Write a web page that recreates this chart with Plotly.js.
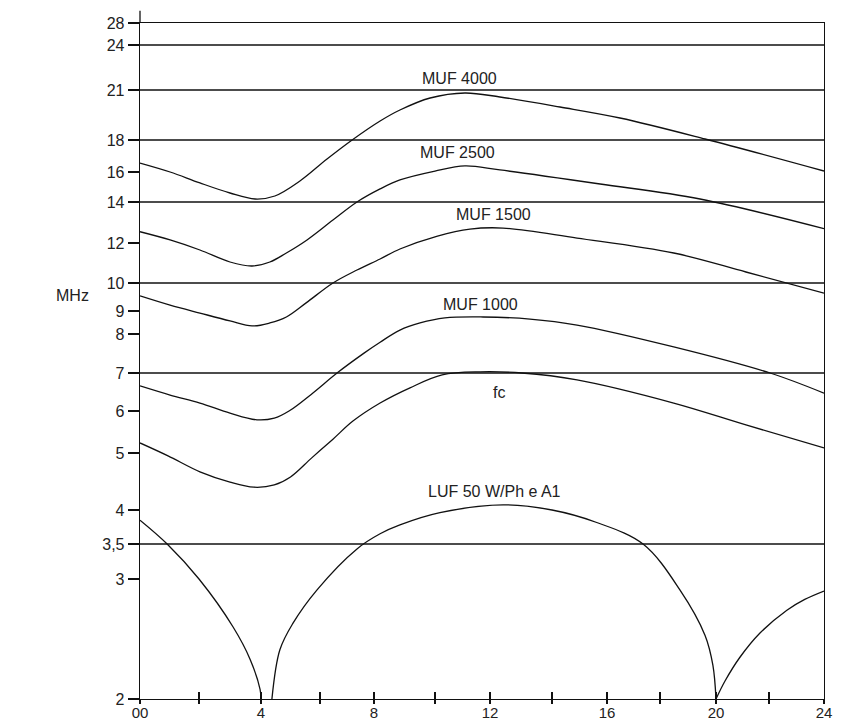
<!DOCTYPE html>
<html>
<head>
<meta charset="utf-8">
<script src="https://cdn.plot.ly/plotly-3.0.1.min.js"></script>
<style>html,body{margin:0;padding:0;background:#fff;}#chart{width:842px;height:723px;}</style>
</head>
<body>
<div id="chart"></div>
<script>
// ---- axis scales as drawn in the reference (hand-drawn, non-uniform) ----
const hourTicks = [0, 2, 4, 6, 8, 10, 12, 14, 16, 18, 20, 22, 24];
const hourTickText = ['00', '', '4', '', '8', '', '12', '', '16', '', '20', '', '24'];
const hourScalePos = [0, 59, 121, 180, 234, 295, 350, 412, 467, 520, 576, 629, 684];

const mhzTicks = [2, 3, 3.5, 4, 5, 6, 7, 8, 9, 10, 12, 14, 16, 18, 21, 24, 28];
const mhzTickText = ['2', '3', '3,5', '4', '5', '6', '7', '8', '9', '10', '12', '14', '16', '18', '21', '24', '28'];
const mhzScalePos = [0, 120, 155, 189, 246, 288, 326, 365, 388, 416, 456, 497, 527, 559, 609, 654, 676];

// reference frequencies drawn as horizontal lines
const refLevels = [24, 21, 18, 14, 10, 7, 3.5];

// ---- series (hours UTC, MHz) ----
const hoursMuf4000 = [0, 1.02, 2.03, 3.0, 3.81, 4.47, 5.32, 6.26, 7.19, 8.2, 8.85, 9.84, 11.09, 12.32, 14.29, 16.49, 19.61, 24];
const muf4000 = [16.56, 16.0, 15.27, 14.6, 14.2, 14.4, 15.4, 16.81, 18.0, 19.14, 19.8, 20.52, 20.82, 20.58, 19.98, 19.32, 18.06, 16.06];

const hoursMuf2500 = [0, 1.02, 2.03, 3.0, 3.71, 4.3, 4.86, 5.56, 6.48, 7.37, 8.2, 8.85, 10.0, 11.09, 12.32, 15.75, 19.43, 24];
const muf2500 = [12.55, 12.15, 11.65, 11.05, 10.85, 11.05, 11.5, 12.15, 13.12, 14.0, 14.87, 15.47, 16.06, 16.38, 16.13, 15.2, 14.2, 12.7];

const hoursMuf1500 = [0, 1.02, 2.03, 3.0, 3.71, 4.3, 4.86, 5.53, 6.48, 7.37, 8.2, 8.85, 10.09, 11.27, 12.42, 14.91, 18.49, 21.13, 24];
const muf1500 = [9.54, 9.21, 8.91, 8.57, 8.35, 8.48, 8.74, 9.29, 10.0, 10.65, 11.2, 11.7, 12.34, 12.68, 12.73, 12.24, 11.5, 10.55, 9.64];

const hoursMuf1000 = [0, 1.02, 2.03, 3.0, 3.87, 4.45, 4.95, 5.75, 6.63, 7.63, 8.2, 8.85, 9.51, 10.36, 11.75, 13.29, 14.91, 18.49, 22.04, 24];
const muf1000 = [6.66, 6.42, 6.21, 5.95, 5.79, 5.83, 6.0, 6.47, 7.0, 7.51, 7.79, 8.17, 8.48, 8.7, 8.74, 8.65, 8.39, 7.67, 7.0, 6.47];

const hoursFc = [0, 0.95, 2.03, 3.0, 3.77, 4.45, 5.0, 5.71, 6.48, 7.22, 8.2, 9.18, 10.26, 11.64, 13.03, 14.91, 18.49, 21.13, 24];
const fc = [5.24, 4.95, 4.67, 4.49, 4.40, 4.44, 4.58, 4.91, 5.33, 5.76, 6.21, 6.61, 6.95, 7.03, 7.0, 6.82, 6.21, 5.67, 5.12];

const hoursLuf = [0, 0.92, 2.0, 3.1, 3.65, 3.97, 4.0, null,
  4.37, 4.64, 5.08, 5.9, 7.37, 8.2, 8.85, 10.18, 12.42, 14.0, 15.6, 17.36, 18.71, 19.61, 19.89, 20.0, null,
  20.0, 20.34, 20.91, 21.66, 22.65, 23.3, 24];
const luf = [3.85, 3.5, 3.0, 2.6, 2.33, 2.08, 2.0, null,
  2.0, 2.41, 2.63, 2.91, 3.43, 3.65, 3.78, 3.96, 4.09, 4.0, 3.82, 3.5, 2.91, 2.53, 2.28, 2.0, null,
  2.0, 2.15, 2.35, 2.55, 2.74, 2.83, 2.9];

// curve labels: [text, hour, MHz]
const curveLabels = [
  ['MUF 4000', 10.9, 21.8],
  ['MUF 2500', 10.8, 17.2],
  ['MUF 1500', 12.1, 13.37],
  ['MUF 1000', 11.64, 9.25],
  ['fc', 12.3, 6.5],
  ['LUF 50 W/Ph e A1', 12.13, 4.32]
];

// ---- scale helpers (piecewise linear through the drawn tick marks) ----
function interp(v, xs, ys) {
  if (v === null || v === undefined) return null;
  if (v <= xs[0]) return ys[0] + (v - xs[0]) * (ys[1] - ys[0]) / (xs[1] - xs[0]);
  for (let i = 1; i < xs.length; i++) {
    if (v <= xs[i]) {
      return ys[i - 1] + (v - xs[i - 1]) * (ys[i] - ys[i - 1]) / (xs[i] - xs[i - 1]);
    }
  }
  const n = xs.length;
  return ys[n - 1] + (v - xs[n - 1]) * (ys[n - 1] - ys[n - 2]) / (xs[n - 1] - xs[n - 2]);
}
const hx = h => interp(h, hourTicks, hourScalePos);
const my = f => interp(f, mhzTicks, mhzScalePos);

const lineStyle = {color: '#111', width: 1.3, shape: 'spline', smoothing: 1};
function curve(hs, vs, name, xaxis) {
  return {
    type: 'scatter', mode: 'lines', name: name,
    x: hs.map(hx), y: vs.map(my),
    line: lineStyle, connectgaps: false, hoverinfo: 'skip',
    xaxis: xaxis || 'x'
  };
}

const traces = [
  curve(hoursMuf4000, muf4000, 'MUF 4000'),
  curve(hoursMuf2500, muf2500, 'MUF 2500'),
  curve(hoursMuf1500, muf1500, 'MUF 1500'),
  curve(hoursMuf1000, muf1000, 'MUF 1000'),
  curve(hoursFc, fc, 'fc'),
  curve(hoursLuf, luf, 'LUF', 'x2')
];

const font = {family: '"Liberation Sans", Arial, Helvetica, sans-serif', size: 16, color: '#222'};

const shapes = refLevels.map(v => ({
  type: 'line', xref: 'paper', x0: 0, x1: 1, yref: 'y', y0: my(v), y1: my(v),
  line: {color: '#111', width: 1.3}
}));
// left axis line runs a little above the top frame, as in the drawing
shapes.push({type: 'line', xref: 'paper', yref: 'paper', x0: 0, x1: 0, y0: 1, y1: 1.018,
  line: {color: '#111', width: 1.3}});

const annotations = curveLabels.map(([t, h, f]) => ({
  text: t, x: hx(h), y: my(f), xref: 'x', yref: 'y',
  showarrow: false, xanchor: 'center', yanchor: 'middle', font: font
}));
annotations.push({
  text: 'MHz', xref: 'paper', yref: 'paper', x: -0.099, y: 0.5976,
  showarrow: false, xanchor: 'center', yanchor: 'middle', font: font
});

const layout = {
  width: 842, height: 723,
  margin: {l: 140, r: 18, t: 23, b: 24, pad: 0},
  paper_bgcolor: '#fff', plot_bgcolor: '#fff',
  showlegend: false,
  font: font,
  xaxis: {
    range: [0, 684], tickmode: 'array', tickvals: hourTicks.map(hx), ticktext: hourTickText,
    showgrid: false, zeroline: false, showline: true, mirror: true,
    linecolor: '#111', linewidth: 1.3, ticks: 'outside', ticklen: 4, tickwidth: 1.2, tickcolor: '#111',
    ticklabelstandoff: -4,
    tickfont: {family: font.family, size: 15, color: '#222'}, fixedrange: true, automargin: false
  },
  xaxis2: {
    range: [0, 684], overlaying: 'x', anchor: 'y', side: 'bottom',
    tickmode: 'array', tickvals: hourTicks.map(hx), showticklabels: false,
    showgrid: false, zeroline: false, showline: false,
    ticks: 'inside', ticklen: 7, tickwidth: 1.2, tickcolor: '#111', fixedrange: true
  },
  yaxis: {
    range: [0, 676], tickmode: 'array', tickvals: mhzTicks.map(my), ticktext: mhzTickText,
    showgrid: false, zeroline: false, showline: true, mirror: true,
    linecolor: '#111', linewidth: 1.3, ticks: 'outside', ticklen: 11, tickwidth: 1.2, tickcolor: '#111',
    tickfont: font, fixedrange: true, automargin: false
  },
  shapes: shapes,
  annotations: annotations
};

Plotly.newPlot('chart', traces, layout, {staticPlot: true, displayModeBar: false});
</script>
</body>
</html>
